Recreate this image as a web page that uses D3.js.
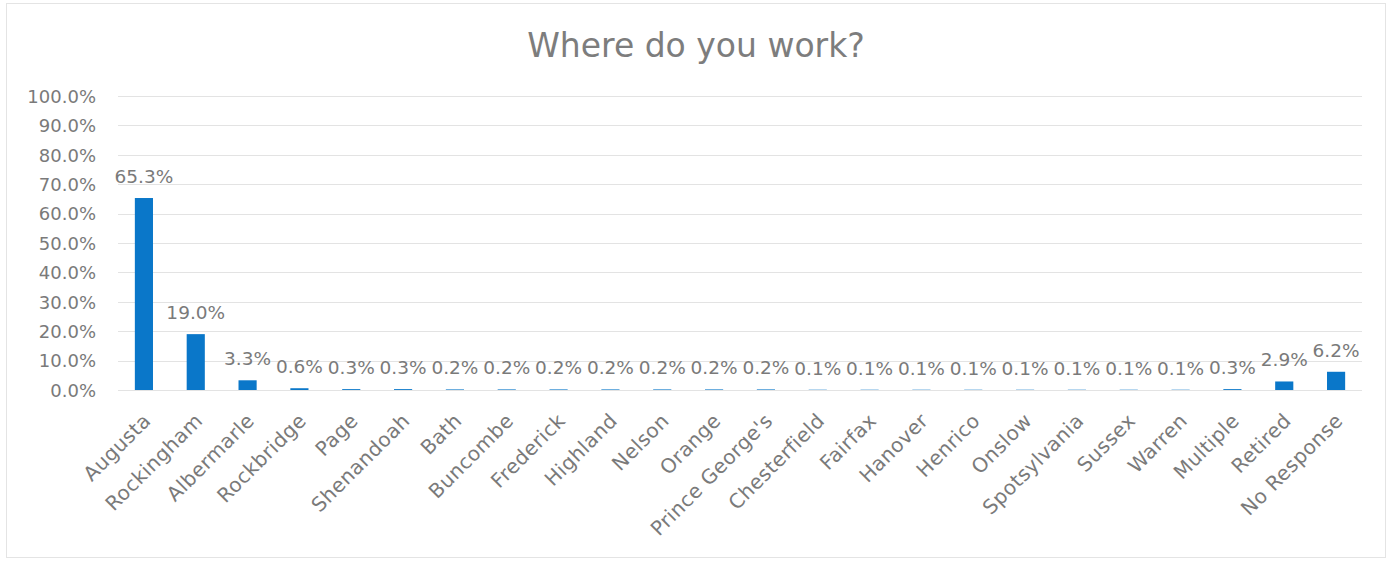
<!DOCTYPE html>
<html>
<head>
<meta charset="utf-8">
<script src="https://cdn.jsdelivr.net/npm/d3@7/dist/d3.min.js"></script>
<style>
  html, body { margin: 0; padding: 0; background: #ffffff; }
  svg { display: block; }
  text { font-family: "DejaVu Sans", sans-serif; fill: #7a7a7a; }
</style>
</head>
<body>
<svg id="chart" width="1390" height="562"></svg>
<script>
const title = "Where do you work?";
const categories = ["Augusta", "Rockingham", "Albermarle", "Rockbridge", "Page", "Shenandoah", "Bath", "Buncombe", "Frederick", "Highland", "Nelson", "Orange", "Prince George's", "Chesterfield", "Fairfax", "Hanover", "Henrico", "Onslow", "Spotsylvania", "Sussex", "Warren", "Multiple", "Retired", "No Response"];
const values = [65.3, 19.0, 3.3, 0.6, 0.3, 0.3, 0.2, 0.2, 0.2, 0.2, 0.2, 0.2, 0.2, 0.1, 0.1, 0.1, 0.1, 0.1, 0.1, 0.1, 0.1, 0.3, 2.9, 6.2];
const yTicks = [0, 10, 20, 30, 40, 50, 60, 70, 80, 90, 100];

const svg = d3.select("#chart");
const W = 1390, H = 562;
const plot = { left: 118, right: 1362, top: 96, bottom: 390 };

svg.append("rect").attr("x", 6.5).attr("y", 3.5).attr("width", W - 11).attr("height", H - 8)
  .attr("fill", "#fff").attr("stroke", "#e4e4e4").attr("stroke-width", 1);

svg.append("text").attr("x", 696).attr("y", 57).attr("text-anchor", "middle")
  .style("font-size", "33px").style("fill", "#7d7d7d").text(title);

const x = d3.scaleBand().domain(categories).range([plot.left, plot.right]).paddingInner(0.65).paddingOuter(0.325);
const y = d3.scaleLinear().domain([0, 100]).range([plot.bottom, plot.top]);

// gridlines
svg.append("g").selectAll("line").data(yTicks).join("line")
  .attr("x1", plot.left).attr("x2", plot.right)
  .attr("y1", d => Math.round(y(d)) + 0.5).attr("y2", d => Math.round(y(d)) + 0.5)
  .attr("stroke", "#e3e3e3").attr("stroke-width", 1);

// y axis
const yAxis = d3.axisLeft(y).tickValues(yTicks).tickFormat(d => d.toFixed(1) + "%").tickSize(0).tickPadding(0);
const gy = svg.append("g").attr("transform", `translate(96,0)`).call(yAxis);
gy.select(".domain").remove();
gy.selectAll("text").style("font-size", "18px").style("fill", "#7a7a7a").attr("dy", "0.35em");

// bars
svg.append("g").selectAll("rect").data(values).join("rect")
  .attr("x", (d, i) => x(categories[i]))
  .attr("width", x.bandwidth())
  .attr("y", d => y(d))
  .attr("height", d => plot.bottom - y(d))
  .attr("fill", "#0a77c9");

// data labels
svg.append("g").selectAll("text").data(values).join("text")
  .attr("x", (d, i) => x(categories[i]) + x.bandwidth() / 2)
  .attr("y", d => y(d) - 15)
  .attr("text-anchor", "middle")
  .style("font-size", "18.5px")
  .text(d => d.toFixed(1) + "%");

// x axis
const xAxis = d3.axisBottom(x).tickSize(0).tickPadding(0);
const gx = svg.append("g").attr("transform", `translate(0,${plot.bottom})`).call(xAxis);
gx.select(".domain").remove();
gx.selectAll("text")
  .style("font-size", "20px").style("fill", "#7a7a7a").style("letter-spacing", "0.4px")
  .attr("text-anchor", "end")
  .attr("dy", null).attr("y", 0)
  .attr("transform", "translate(8,32) rotate(-45)");
</script>
</body>
</html>
